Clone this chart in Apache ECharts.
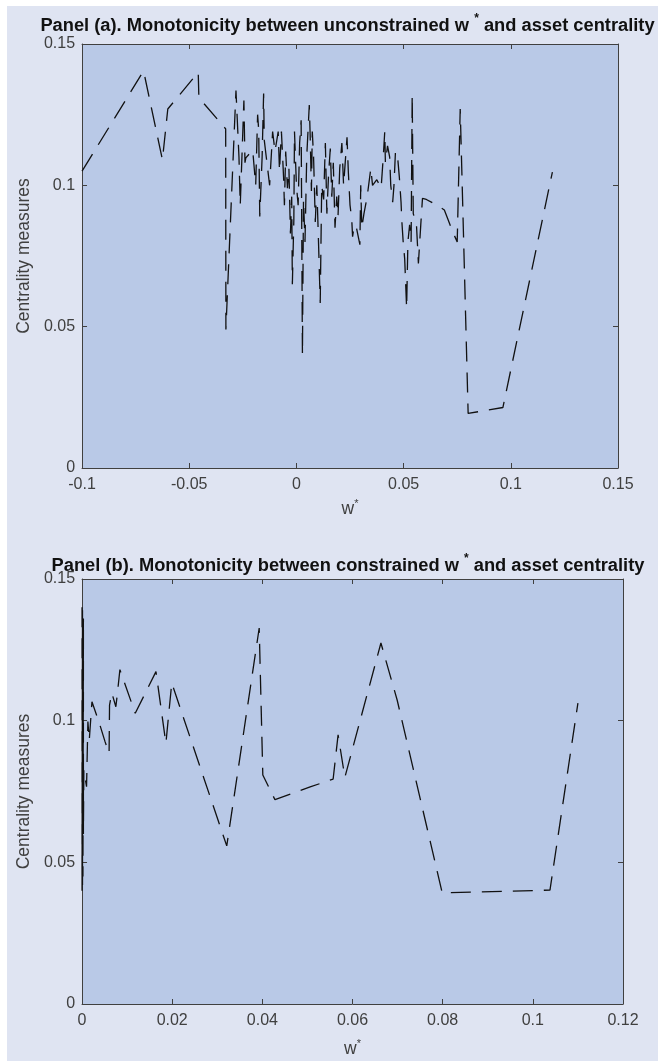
<!DOCTYPE html>
<html>
<head>
<meta charset="utf-8">
<script src="https://cdn.jsdelivr.net/npm/echarts@6/dist/echarts.min.js"></script>
<style>
  html, body { margin: 0; padding: 0; background: #ffffff; }
  #chart { position: absolute; left: 7px; top: 6px; width: 651px; height: 1055px; }
</style>
</head>
<body>
<div id="chart"></div>
<script>
// panel (a): unconstrained w* against centrality, in plotting order
var wA = [-0.1000, -0.0713, -0.0625, -0.0600, -0.0458, -0.0455, -0.0330, -0.0329, -0.0282,
          -0.0268, -0.0262, -0.0245, -0.0240, -0.0236, -0.0204, -0.0190, -0.0181, -0.0176, -0.0171,
          -0.0160, -0.0153, -0.0150, -0.0125, -0.0111, -0.0100, -0.0085, -0.0079, -0.0070, -0.0060,
          -0.0056, -0.0050, -0.0042, -0.0035, -0.0028, -0.0022, -0.0019, -0.0012, -0.0009, 0.0000,
          0.0008, 0.0015, 0.0022, 0.0028, 0.0033, 0.0040, 0.0048, 0.0060, 0.0064, 0.0070,
          0.0074, 0.0080, 0.0088, 0.0095, 0.0103, 0.0111, 0.0118, 0.0127, 0.0135, 0.0142,
          0.0150, 0.0158, 0.0165, 0.0172, 0.0180, 0.0188, 0.0194, 0.0202, 0.0212, 0.0220,
          0.0236, 0.0242, 0.0250, 0.0258, 0.0262, 0.0270, 0.0280, 0.0296, 0.0300, 0.0305,
          0.0315, 0.0330, 0.0347, 0.0355, 0.0375, 0.0395, 0.0405, 0.0412, 0.0415, 0.0425,
          0.0435, 0.0440, 0.0449, 0.0455, 0.0462, 0.0472, 0.0480, 0.0488, 0.0492, 0.0498,
          0.0505, 0.0514, 0.0520, 0.0528, 0.0535, 0.0540, 0.0545, 0.0560, 0.0569, 0.0580,
          0.0588, 0.0606, 0.0662, 0.0690, 0.0708, 0.0731, 0.0750, 0.0764, 0.0801, 0.0963,
          0.1194];
var cA = [0.1050, 0.1405, 0.1090, 0.1270, 0.1400, 0.1310, 0.1200, 0.0490, 0.1335,
          0.1100, 0.0930, 0.1300, 0.1080, 0.1097, 0.1125, 0.1000, 0.1250, 0.1196, 0.0890,
          0.1100, 0.1325, 0.1160, 0.1000, 0.1190, 0.1120, 0.1190, 0.1050, 0.1190, 0.1030,
          0.0930, 0.1120, 0.0990, 0.1060, 0.0830, 0.0960, 0.0650, 0.0880, 0.1190, 0.1000,
          0.0930, 0.1150, 0.1230, 0.0400, 0.0950, 0.0800, 0.1100, 0.1284, 0.1180, 0.0980,
          0.1190, 0.1100, 0.0870, 0.1000, 0.0800, 0.0584, 0.1000, 0.0950, 0.1150, 0.0900,
          0.1040, 0.1130, 0.0960, 0.1080, 0.0850, 0.0960, 0.0889, 0.1060, 0.1150, 0.1000,
          0.1170, 0.1050, 0.0930, 0.0880, 0.0818, 0.0860, 0.0850, 0.0790, 0.1000, 0.0850,
          0.0900, 0.0960, 0.1060, 0.1000, 0.1020, 0.0990, 0.1100, 0.1190, 0.1080, 0.1140,
          0.1100, 0.1000, 0.0940, 0.1000, 0.1120, 0.1100, 0.1030, 0.0940, 0.0870, 0.0800,
          0.0740, 0.0566, 0.0800, 0.0860, 0.0800, 0.1320, 0.0900, 0.0860, 0.0724, 0.0860,
          0.0954, 0.0950, 0.0927, 0.0913, 0.0877, 0.0832, 0.0800, 0.1270, 0.0193, 0.0214,
          0.1047];

// panel (b): constrained w* against centrality
var wB = [0, 0, 0.0001, 0.0001, 0.0002, 0.0002, 0.0003, 0.0003, 0.0004, 0.0010, 0.0013,
          0.0016, 0.0016, 0.0022, 0.0038, 0.0051, 0.0060, 0.0061, 0.0066, 0.0075, 0.0078,
          0.0084, 0.0118, 0.0164, 0.0186, 0.0199, 0.0321, 0.0393, 0.0401, 0.0428, 0.0506,
          0.0557, 0.0568, 0.0583, 0.0663, 0.0699, 0.0799, 0.1038, 0.1100];
var cB = [0.1400, 0.0400, 0.1390, 0.0420, 0.1380, 0.0450, 0.1360, 0.0600, 0.0826, 0.0767, 0.0997,
          0.0997, 0.0930, 0.1067, 0.0993, 0.0926, 0.0885, 0.1055, 0.1098, 0.1049, 0.1090,
          0.1180, 0.1026, 0.1173, 0.0920, 0.1133, 0.0558, 0.1327, 0.0808, 0.0721, 0.0766,
          0.0794, 0.0950, 0.0800, 0.1274, 0.1073, 0.0392, 0.0402, 0.1062];

// tick labels
var xTicksA = ['-0.1', '-0.05', '0', '0.05', '0.1', '0.15'];
var xTicksB = ['0', '0.02', '0.04', '0.06', '0.08', '0.1', '0.12'];
var yTicks = ['0', '0.05', '0.1', '0.15'];

var FONT = 'Liberation Sans, Arial, Helvetica, sans-serif';
var axisColor = '#404040';

function pairs(xs, ys) {
    var out = [];
    for (var i = 0; i < xs.length; i++) {
        out.push([xs[i], ys[i]]);
    }
    return out;
}

function pick(labels) {
    return function (v, i) {
        return labels[i] !== undefined ? labels[i] : String(+v.toFixed(3));
    };
}

function valueAxis(grid, pos, min, max, step, labels, extra) {
    var ax = {
        type: 'value',
        gridIndex: grid,
        position: pos,
        min: min,
        max: max,
        interval: step,
        axisLine: { show: true, onZero: false, lineStyle: { color: axisColor, width: 1 } },
        axisTick: { show: true, inside: true, length: 5, lineStyle: { color: axisColor } },
        splitLine: { show: false },
        axisLabel: {
            show: !!labels,
            color: '#404040',
            fontSize: 16,
            fontFamily: FONT,
            margin: (pos === 'left') ? 7 : 9,
            showMinLabel: true,
            showMaxLabel: true,
            formatter: labels ? pick(labels) : null
        }
    };
    return Object.assign(ax, extra || {});
}

function wName(gap) {
    return {
        name: '{w|w}{s|*}',
        nameLocation: 'middle',
        nameGap: gap,
        nameTextStyle: {
            rich: {
                w: { fontSize: 17.5, fontFamily: FONT, color: '#404040', lineHeight: 20, verticalAlign: 'bottom' },
                s: { fontSize: 11, fontFamily: FONT, color: '#404040', lineHeight: 11, verticalAlign: 'top' }
            }
        }
    };
}

var cName = {
    name: 'Centrality measures',
    nameLocation: 'middle',
    nameGap: 44,
    nameTextStyle: { fontSize: 17.5, fontFamily: FONT, color: '#404040' }
};

function titleText(x, y, body) {
    return {
        type: 'text',
        x: x,
        y: y,
        style: {
            text: '{t|' + body[0] + '}{s|*}{t|' + body[1] + '}',
            align: 'center',
            verticalAlign: 'middle',
            rich: {
                t: { fontSize: 18.3, fontWeight: 'bold', fontFamily: FONT, fill: '#111', lineHeight: 22, verticalAlign: 'bottom' },
                s: { fontSize: 12, fontWeight: 'bold', fontFamily: FONT, fill: '#111', lineHeight: 12, verticalAlign: 'top' }
            }
        }
    };
}

var lineStyle = { color: '#111', width: 1.3, type: [20, 11] };

var chart = echarts.init(document.getElementById('chart'));
chart.setOption({
    animation: false,
    backgroundColor: '#dfe4f2',
    grid: [
        { left: 71, top: 38, width: 540, height: 424, show: true, backgroundColor: '#b9c9e7', borderWidth: 0 },
        { left: 75, top: 573, width: 541, height: 425, show: true, backgroundColor: '#b9c9e7', borderWidth: 0 }
    ],
    xAxis: [
        valueAxis(0, 'bottom', -0.1, 0.15, 0.05, xTicksA, wName(30)),
        valueAxis(0, 'top', -0.1, 0.15, 0.05, null),
        valueAxis(1, 'bottom', 0, 0.12, 0.02, xTicksB, wName(34)),
        valueAxis(1, 'top', 0, 0.12, 0.02, null)
    ],
    yAxis: [
        valueAxis(0, 'left', 0, 0.15, 0.05, yTicks, cName),
        valueAxis(0, 'right', 0, 0.15, 0.05, null),
        valueAxis(1, 'left', 0, 0.15, 0.05, yTicks, cName),
        valueAxis(1, 'right', 0, 0.15, 0.05, null)
    ],
    graphic: [
        titleText(340.5, 18, ['Panel (a). Monotonicity between unconstrained w ', ' and asset centrality']),
        titleText(341, 558, ['Panel (b). Monotonicity between constrained w ', ' and asset centrality'])
    ],
    series: [
        {
            type: 'line',
            xAxisIndex: 0,
            yAxisIndex: 0,
            data: pairs(wA, cA),
            showSymbol: false,
            lineStyle: lineStyle
        },
        {
            type: 'line',
            xAxisIndex: 2,
            yAxisIndex: 2,
            data: pairs(wB, cB),
            showSymbol: false,
            lineStyle: lineStyle
        }
    ]
});
</script>
</body>
</html>
